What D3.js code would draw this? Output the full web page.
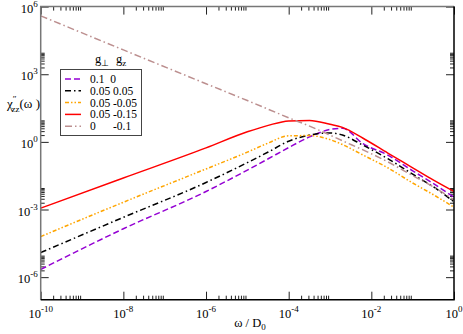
<!DOCTYPE html>
<html lang="en">
<head>
    <meta charset="utf-8">
    <title>chi zz</title>
    <script type="text/javascript" src="https://d3js.org/d3.v7.min.js"></script>
    <style>
        body { margin: 0; background: #fff; }
    </style>
</head>
<body>
    <div id="chart"></div>

    <script type="text/javascript">
        const omega = [1e-10, 1e-8, 1e-6, 1e-5, 3.2e-5, 1e-4, 3.2e-4, 1e-3, 2e-3, 6.3e-3, 2.5e-2, 0.1, 0.32, 1];

        // chi''_zz for each (g_perp, g_z)
        const chiPurple = [2.2e-6, 1.4e-4, 6.3e-3, 5.6e-2, 0.178, 0.56, 1.66, 3.55, 4.0, 0.83, 0.26, 5.2e-2, 1.4e-2, 3.5e-3];
        const chiBlack  = [1.23e-5, 4.5e-4, 1.58e-2, 0.12, 0.355, 1.07, 2.0, 2.5, 2.0, 0.71, 0.18, 3.7e-2, 1.0e-2, 2.2e-3];
        const chiOrange = [6.3e-5, 2.1e-3, 6.3e-2, 0.35, 0.89, 1.86, 1.9, 1.26, 0.76, 0.26, 7.1e-2, 1.5e-2, 4.5e-3, 1.26e-3];
        const chiRed    = [1.15e-3, 2.5e-2, 0.54, 2.8, 5.4, 8.5, 8.9, 6.0, 4.4, 1.45, 0.32, 7.1e-2, 2.0e-2, 6.3e-3];
        const chiBrown  = [3.9e5, 1.2e4, 380, 68, 28, 11.7, 5.0, 2.0, 1.12, 0.44, 0.13, 3.2e-2, 1.0e-2, 2.7e-3];

        const legendLabels = ["0.1  0", "0.05 0.05", "0.05 -0.05", "0.05 -0.15", "0      -0.1"];

        const xTickValues = [1e-10, 1e-8, 1e-6, 1e-4, 1e-2, 1];
        const xTickExps = ["-10", "-8", "-6", "-4", "-2", "0"];
        const yTickValues = [1e-6, 1e-3, 1, 1e3, 1e6];
        const yTickExps = ["-6", "-3", "0", "3", "6"];

        const width = 463;
        const height = 334;
        const margin = {left: 40.7, right: 9, top: 6.6, bottom: 34.3};
        const plotW = width - margin.left - margin.right;
        const plotH = height - margin.top - margin.bottom;
        const serif = "'Liberation Serif', 'Times New Roman', Times, serif";

        const svg = d3.select("#chart")
            .append("svg")
            .attr("width", width)
            .attr("height", height)
            .attr("font-family", serif);

        const g = svg.append("g")
            .attr("transform", "translate(" + margin.left + "," + margin.top + ")");

        const xScale = d3.scaleLog().domain([1e-10, 1]).range([0, plotW]);
        const yScale = d3.scaleLog().domain([1e-7, 1e6]).range([plotH, 0]);

        // minor ticks: 2..9 times each major tick
        function minors(majors) {
            let out = [];
            majors.slice(0, -1).forEach(m => {
                for (let k = 2; k <= 9; k++) out.push(m * k);
            });
            return out;
        }
        const xMinor = minors(xTickValues);
        const yMinor = minors(yTickValues);

        function tickAxis(axisFn, scale, values, size) {
            return axisFn(scale).tickValues(values).tickSizeInner(-size).tickSizeOuter(0).tickFormat("");
        }

        const axes = [
            {fn: d3.axisBottom, s: xScale, t: "translate(0," + plotH + ")"},
            {fn: d3.axisTop, s: xScale, t: "translate(0,0)"},
            {fn: d3.axisLeft, s: yScale, t: "translate(0,0)"},
            {fn: d3.axisRight, s: yScale, t: "translate(" + plotW + ",0)"}
        ];
        axes.forEach(a => {
            const majors = a.s === xScale ? xTickValues : yTickValues;
            const mins = a.s === xScale ? xMinor : yMinor;
            [[majors, 8], [mins, 4]].forEach(([vals, size]) => {
                g.append("g")
                    .attr("transform", a.t)
                    .call(tickAxis(a.fn, a.s, vals, size))
                    .call(sel => sel.select(".domain").remove())
                    .call(sel => sel.selectAll(".tick line").attr("stroke", "#222").attr("stroke-width", 1));
            });
        });

        // tick labels with superscripts
        const xLab = g.append("g").selectAll("text")
            .data(xTickValues)
            .enter()
            .append("text")
                .attr("x", d => xScale(d))
                .attr("y", plotH + 18)
                .attr("text-anchor", "middle")
                .attr("font-family", serif)
                .style("font-size", "12.5px");
        xLab.append("tspan").text("10");
        xLab.append("tspan").attr("dy", -6).style("font-size", "9px").text((d, i) => xTickExps[i]);

        const yLab = g.append("g").selectAll("text")
            .data(yTickValues)
            .enter()
            .append("text")
                .attr("x", -3)
                .attr("y", d => yScale(d) + 6)
                .attr("text-anchor", "end")
                .attr("font-family", serif)
                .style("font-size", "12.5px");
        yLab.append("tspan").text("10");
        yLab.append("tspan").attr("dy", -6).style("font-size", "9px").text((d, i) => yTickExps[i]);

        // curves
        const series = [
            {values: chiPurple, color: "#9400d3", dash: "6,3"},
            {values: chiBlack, color: "#000000", dash: "6,3,1.5,3"},
            {values: chiOrange, color: "#ffa500", dash: "4,2,1.5,2,1.5,2"},
            {values: chiRed, color: "#ff0000", dash: null},
            {values: chiBrown, color: "#bc8f8f", dash: "7,3,1.5,3"}
        ];

        svg.append("defs").append("clipPath").attr("id", "clip")
            .append("rect").attr("width", plotW).attr("height", plotH);

        const line = d3.line()
            .x(d => xScale(d[0]))
            .y(d => yScale(d[1]))
            .curve(d3.curveMonotoneX);

        g.append("g").attr("clip-path", "url(#clip)")
            .selectAll("path")
            .data(series)
            .enter()
            .append("path")
                .attr("d", d => line(omega.map((w, i) => [w, d.values[i]])))
                .attr("fill", "none")
                .attr("stroke", d => d.color)
                .attr("stroke-width", 1.5)
                .attr("stroke-dasharray", d => d.dash);

        // frame
        g.append("path").attr("d", "M0," + plotH + "V0H" + plotW)
            .attr("fill", "none").attr("stroke", "#777").attr("stroke-width", 1.5);
        g.append("path").attr("d", "M0," + plotH + "H" + plotW + "V0")
            .attr("fill", "none").attr("stroke", "#000").attr("stroke-width", 1.5);

        // legend
        const lg = svg.append("g");
        lg.append("rect")
            .attr("x", 60.5).attr("y", 69.5).attr("width", 81).attr("height", 66)
            .attr("fill", "#fff").attr("stroke", "#444").attr("stroke-width", 1);
        const head = lg.append("text").attr("y", 63).attr("font-family", serif).style("font-size", "12.5px");
        head.append("tspan").attr("x", 95).text("g");
        head.append("tspan").attr("dy", 3).style("font-size", "9px").text("\u22a5");
        head.append("tspan").attr("x", 116).attr("dy", -3).text("g");
        head.append("tspan").attr("dy", 3).style("font-size", "9px").text("z");

        const rows = lg.selectAll("g.row")
            .data(series)
            .enter()
            .append("g")
                .attr("class", "row")
                .attr("transform", (d, i) => "translate(0," + (79 + i * 11.8) + ")");
        rows.append("line")
            .attr("x1", 65).attr("x2", 81)
            .attr("stroke", d => d.color)
            .attr("stroke-width", 1.5)
            .attr("stroke-dasharray", d => d.dash);
        rows.append("text")
            .attr("x", 90).attr("y", 4)
            .attr("font-family", serif)
            .style("font-size", "11.5px")
            .style("white-space", "pre")
            .text((d, i) => legendLabels[i]);

        // axis titles
        const yt = svg.append("text").attr("x", 7).attr("y", 108)
            .attr("font-family", serif).style("font-size", "13px");
        yt.append("tspan").text("\u03c7");
        yt.append("tspan").attr("dy", -6).style("font-size", "9px").text("\u2033");
        yt.append("tspan").attr("dx", -5).attr("dy", 10).style("font-size", "9px").text("zz");
        yt.append("tspan").attr("dy", -4).text("(\u03c9 )");

        const xt = svg.append("text").attr("x", 250).attr("y", 327)
            .attr("text-anchor", "middle").attr("font-family", serif).style("font-size", "12.5px");
        xt.append("tspan").text("\u03c9 / D");
        xt.append("tspan").attr("dy", 3).style("font-size", "9px").text("0");
    </script>
</body>
</html>
